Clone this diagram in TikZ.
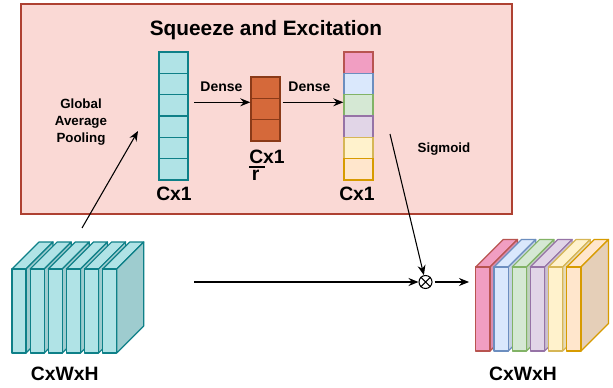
\documentclass[tikz,border=0pt]{standalone}
\usepackage{fontspec}
\setmainfont{Liberation Sans}
\usetikzlibrary{arrows.meta}
\definecolor{boxfill}{HTML}{FAD9D5}
\definecolor{boxline}{HTML}{AE4132}
\definecolor{tealfill}{HTML}{B0E3E6}
\definecolor{tealline}{HTML}{0E8088}
\definecolor{rustfill}{HTML}{D5693A}
\definecolor{rustline}{HTML}{8A3A18}
\definecolor{pinkfill}{HTML}{F19EC2}
\definecolor{pinkline}{HTML}{B85450}
\definecolor{bluefill}{HTML}{DAE8FC}
\definecolor{blueline}{HTML}{6C8EBF}
\definecolor{greenfill}{HTML}{D5E8D4}
\definecolor{greenline}{HTML}{82B366}
\definecolor{purplefill}{HTML}{E1D5E7}
\definecolor{purpleline}{HTML}{9673A6}
\definecolor{yellowfill}{HTML}{FFF2CC}
\definecolor{yellowline}{HTML}{D6B656}
\definecolor{orangefill}{HTML}{FFE6CC}
\definecolor{orangeline}{HTML}{D79B00}
\tikzset{
  arr/.style={-{Stealth[length=7.5pt,width=6pt,inset=2.5pt]},line width=0.8pt},
  cell/.style={draw,line width=1.1pt,minimum width=21.75pt,minimum height=16pt,inner sep=0pt},
  slab/.style={line width=0.9pt,line join=round},
  ttl/.style={font=\bfseries\fontsize{15.6}{18}\selectfont},
  big/.style={font=\bfseries\fontsize{14.5}{17}\selectfont},
  mid/.style={font=\bfseries\fontsize{10.5}{12.75}\selectfont},
  lbl/.style={font=\bfseries\fontsize{10}{12.75}\selectfont}
}
\begin{document}
\begin{tikzpicture}[x=0.75pt,y=-0.75pt]
  \path[use as bounding box,fill=white](0,0)rectangle(613,388);
  % squeeze and excitation block
  \draw[boxline,fill=boxfill,line width=0.9pt](21,4)rectangle(512,214);
  \node[ttl,anchor=base](title)at(266,36){Squeeze and Excitation};
  \foreach \i in {0,...,5}
    \node[cell,draw=tealline,fill=tealfill](A\i)at(173.5,62.67+21.33*\i){};
  \foreach \i in {0,1,2}
    \node[cell,draw=rustline,fill=rustfill](B\i)at(265.5,87.67+21.33*\i){};
  \foreach \f/\d [count=\i from 0] in {pinkfill/pinkline,bluefill/blueline,greenfill/greenline,purplefill/purpleline,yellowfill/yellowline,orangefill/orangeline}
    \node[cell,draw=\d,fill=\f](C\i)at(358.5,62.67+21.33*\i){};
  \node[big,anchor=base](LA)at(174,201){Cx1};
  \node[big,anchor=base](LC)at(357,201){Cx1};
  \node[big,anchor=base west,inner sep=0pt](LB)at(249,163.3){Cx1};
  \node[big,anchor=base west,inner sep=0pt](LBr)at(251.5,180.5){r};
  \draw[line width=1.2pt]([yshift=-2.6pt]LB.base west)--++(16,0);
  \node[mid,anchor=base](D1)at(221.5,91.5){Dense};
  \node[mid,anchor=base](D2)at(309.5,91.5){Dense};
  \coordinate(P1)at(194,102.3);
  \draw[arr](P1)--(P1-|B0.west);
  \draw[arr,shorten <=1.5pt](P1-|B0.east)--(P1-|C0.west);
  \node[lbl,align=center](G)at(81,122){Global\\Average\\Pooling};
  \node[lbl,anchor=base](S)at(444,153){Sigmoid};
  % input feature maps
  \foreach \i in {0,...,5}{
    \pgfmathsetmacro\x{12+18.15*\i}
    \filldraw[slab,draw=tealline,fill=tealfill](\x,269)--++(27,-27)--++(14,0)--++(-27,27)--cycle;
    \filldraw[slab,draw=tealline,fill=tealfill!90!black](\x+14,269)--++(27,-27)--++(0,84)--++(-27,27)--cycle;
    \filldraw[slab,draw=tealline,fill=tealfill](\x,269)rectangle++(14,84);
  }
  \node[big,anchor=base](W1)at(64.7,380.7){CxWxH};
  % scaled feature maps
  \foreach \f/\d [count=\i from 0] in {pinkfill/pinkline,bluefill/blueline,greenfill/greenline,purplefill/purpleline,yellowfill/yellowline,orangefill/orangeline}{
    \pgfmathsetmacro\x{475.7+18.2*\i}
    \filldraw[slab,draw=\d,fill=\f](\x,267)--++(27.5,-27.5)--++(14.3,0)--++(-27.5,27.5)--cycle;
    \filldraw[slab,draw=\d,fill=\f!90!black](\x+14.3,267)--++(27.5,-27.5)--++(0,84)--++(-27.5,27.5)--cycle;
    \filldraw[slab,draw=\d,fill=\f](\x,267)rectangle++(14.3,84);
  }
  \node[big,anchor=base](W2)at(523,380.7){CxWxH};
  % connectors
  \node[draw,circle,minimum size=9.75pt,inner sep=0pt,line width=0.8pt](M)at(425.5,282){};
  \draw[line width=0.8pt](M.north west)--(M.south east)(M.north east)--(M.south west);
  \coordinate(P2)at(82,228);
  \coordinate(P3)at(138,131);
  \draw[arr](P2)--(P3);
  \coordinate(P4)at(390,134);
  \draw[arr](P4)--(M);
  \coordinate(P5)at(194,282);
  \draw[arr](P5)--(M);
  \coordinate(P6)at(469,282);
  \draw[arr,shorten <=1.5pt](M)--(P6);
\end{tikzpicture}
\end{document}
